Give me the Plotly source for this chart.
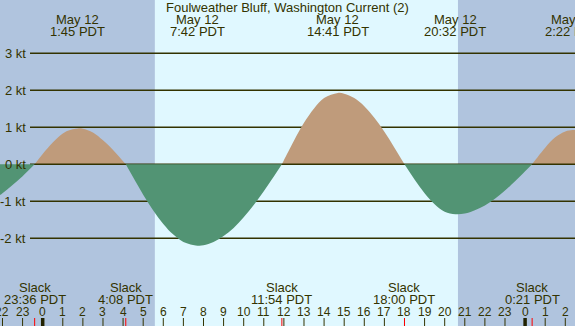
import plotly.graph_objects as go

# ---- data (hours relative to May 12 00:00 PDT, speed in knots) ----
times = [-2.5, -2.0, -1.5, -1.0, -0.4,
         0.0, 0.5, 1.0, 1.25, 1.75, 2.0, 2.5, 3.0, 3.5, 4.133,
         4.5, 5.0, 5.5, 6.0, 6.5, 7.0, 7.7, 8.0, 8.5, 9.0, 9.5, 10.0, 10.5, 11.0, 11.5, 11.9,
         12.0, 12.5, 13.0, 13.5, 14.0, 14.683, 15.0, 15.5, 16.0, 16.5, 17.0, 17.5, 18.0,
         18.5, 19.0, 19.5, 20.0, 20.533, 21.0, 21.5, 22.0, 22.5, 23.0, 23.5, 24.0, 24.35,
         24.5, 25.0, 25.5, 26.0, 26.367, 26.8]
speeds = [-0.99, -0.78, -0.56, -0.32, 0.0,
          0.28, 0.59, 0.83, 0.91, 0.97, 0.96, 0.86, 0.65, 0.39, 0.0,
          -0.35, -0.82, -1.25, -1.61, -1.90, -2.10, -2.20, -2.19, -2.10, -1.94, -1.72, -1.43, -1.10, -0.73, -0.33, 0.0,
          0.11, 0.64, 1.12, 1.51, 1.79, 1.93, 1.91, 1.79, 1.57, 1.26, 0.88, 0.45, 0.0,
          -0.41, -0.78, -1.08, -1.28, -1.35, -1.33, -1.24, -1.11, -0.93, -0.71, -0.46, -0.19, 0.0,
          0.11, 0.45, 0.73, 0.89, 0.93, 0.91]

max_times = [1.75, 7.7, 14.683, 20.533, 26.367]
max_dates = ["May 12", "May 12", "May 12", "May 12", "May 12"]
max_labels = ["1:45 PDT", "7:42 PDT", "14:41 PDT", "20:32 PDT", "2:22 PDT"]
slack_times = [-0.4, 4.133, 11.9, 18.0, 24.35]
slack_labels = ["23:36 PDT", "4:08 PDT", "11:54 PDT", "18:00 PDT", "0:21 PDT"]
hour_ticks = list(range(-2, 27))
hour_labels = [str(h % 24) for h in hour_ticks]
midnights = [0, 24]
kt_levels = [3, 2, 1, 0, -1, -2]
kt_labels = ["3 kt", "2 kt", "1 kt", "0 kt", "-1 kt", "-2 kt"]
sunrise = 5.58
sunset = 20.66

title = "Foulweather Bluff, Washington Current (2)"

# ---- style ----
W, H = 575, 326
X_RANGE = [-2.124, 26.483]
Y_RANGE = [-4.370, 4.441]
NIGHT = "#b0c4de"
DAY = "#e0f8ff"
FLOOD = "#bf9b7b"
EBB = "#529474"
INK = "#333300"
FONT = "Liberation Sans"

fig = go.Figure()

# split curve into segments between slack (zero) points
segments = []
cur_x, cur_y = [], []
for t, v in zip(times, speeds):
    cur_x.append(t)
    cur_y.append(v)
    if v == 0.0 and len(cur_x) > 1:
        segments.append((cur_x, cur_y))
        cur_x, cur_y = [t], [v]
if len(cur_x) > 1:
    segments.append((cur_x, cur_y))

flood_segs = [s for s in segments if max(s[1]) > 0]
ebb_segs = [s for s in segments if min(s[1]) < 0]

for sx, sy in flood_segs:
    fig.add_trace(go.Scatter(x=sx, y=sy, mode="lines", fill="tozeroy",
                             fillcolor=FLOOD, line=dict(width=0, color=FLOOD, shape="spline"),
                             hoverinfo="skip", showlegend=False))

# zero line (visible only under flood)
x_line_start = X_RANGE[0] + (30 / W) * (X_RANGE[1] - X_RANGE[0])
fig.add_trace(go.Scatter(x=[x_line_start, X_RANGE[1]], y=[0, 0], mode="lines",
                         line=dict(width=1.5, color=INK), hoverinfo="skip", showlegend=False))

for sx, sy in ebb_segs:
    fig.add_trace(go.Scatter(x=sx, y=sy, mode="lines", fill="tozeroy",
                             fillcolor=EBB, line=dict(width=0, color=EBB, shape="spline"),
                             hoverinfo="skip", showlegend=False))

shapes = []
# night backgrounds
shapes.append(dict(type="rect", xref="x", yref="paper", x0=X_RANGE[0] - 1, x1=sunrise,
                   y0=0, y1=1, fillcolor=NIGHT, line=dict(width=0), layer="below"))
shapes.append(dict(type="rect", xref="x", yref="paper", x0=sunset, x1=X_RANGE[1] + 1,
                   y0=0, y1=1, fillcolor=NIGHT, line=dict(width=0), layer="below"))
# horizontal kt lines
for lv in kt_levels:
    if lv == 0:
        continue
    shapes.append(dict(type="line", xref="paper", yref="y", x0=30 / W, x1=1, y0=lv, y1=lv,
                       line=dict(color=INK, width=1.5), layer="below"))
# hour ticks
tick_h = 8 / H
for h in hour_ticks:
    shapes.append(dict(type="line", xref="x", yref="paper", x0=h, x1=h, y0=0, y1=tick_h,
                       line=dict(color=INK, width=1), layer="above"))
for h in midnights:
    shapes.append(dict(type="line", xref="x", yref="paper", x0=h, x1=h, y0=0, y1=tick_h,
                       line=dict(color="#222200", width=3.5), layer="above"))
for h in slack_times:
    shapes.append(dict(type="line", xref="x", yref="paper", x0=h, x1=h, y0=0, y1=tick_h,
                       line=dict(color="red", width=1), layer="above"))

ann = []
def py(p):
    return 1 - p / H

f13 = dict(family=FONT, size=13, color=INK)
f12 = dict(family=FONT, size=12, color=INK)

ann.append(dict(text=title, xref="paper", yref="paper", x=0.5, y=py(8), xanchor="center",
                yanchor="middle", showarrow=False, font=f13))
for t, d, lab in zip(max_times, max_dates, max_labels):
    ann.append(dict(text=d, xref="x", yref="paper", x=t, y=py(19.5), xanchor="center",
                    yanchor="middle", showarrow=False, font=f13))
    ann.append(dict(text=lab, xref="x", yref="paper", x=t, y=py(31.8), xanchor="center",
                    yanchor="middle", showarrow=False, font=f13))
for t, lab in zip(slack_times, slack_labels):
    ann.append(dict(text="Slack", xref="x", yref="paper", x=t, y=py(287), xanchor="center",
                    yanchor="middle", showarrow=False, font=f13))
    ann.append(dict(text=lab, xref="x", yref="paper", x=t, y=py(299), xanchor="center",
                    yanchor="middle", showarrow=False, font=f13))
for h, lab in zip(hour_ticks, hour_labels):
    ann.append(dict(text=lab, xref="x", yref="paper", x=h, y=py(312), xanchor="center",
                    yanchor="middle", showarrow=False, font=f12))
for lv, lab in zip(kt_levels, kt_labels):
    ann.append(dict(text=lab, xref="paper", yref="y", x=28 / W, y=lv, xanchor="right",
                    yanchor="middle", showarrow=False, font=f13))

fig.update_layout(
    width=W, height=H,
    margin=dict(l=0, r=0, t=0, b=0, pad=0),
    paper_bgcolor=DAY, plot_bgcolor=DAY,
    xaxis=dict(range=X_RANGE, visible=False, fixedrange=True),
    yaxis=dict(range=Y_RANGE, visible=False, fixedrange=True),
    shapes=shapes, annotations=ann, showlegend=False,
)

fig.write_html("out.html", config=dict(displayModeBar=False),
               post_script="document.body.style.margin='0';document.body.style.overflow='hidden';")
